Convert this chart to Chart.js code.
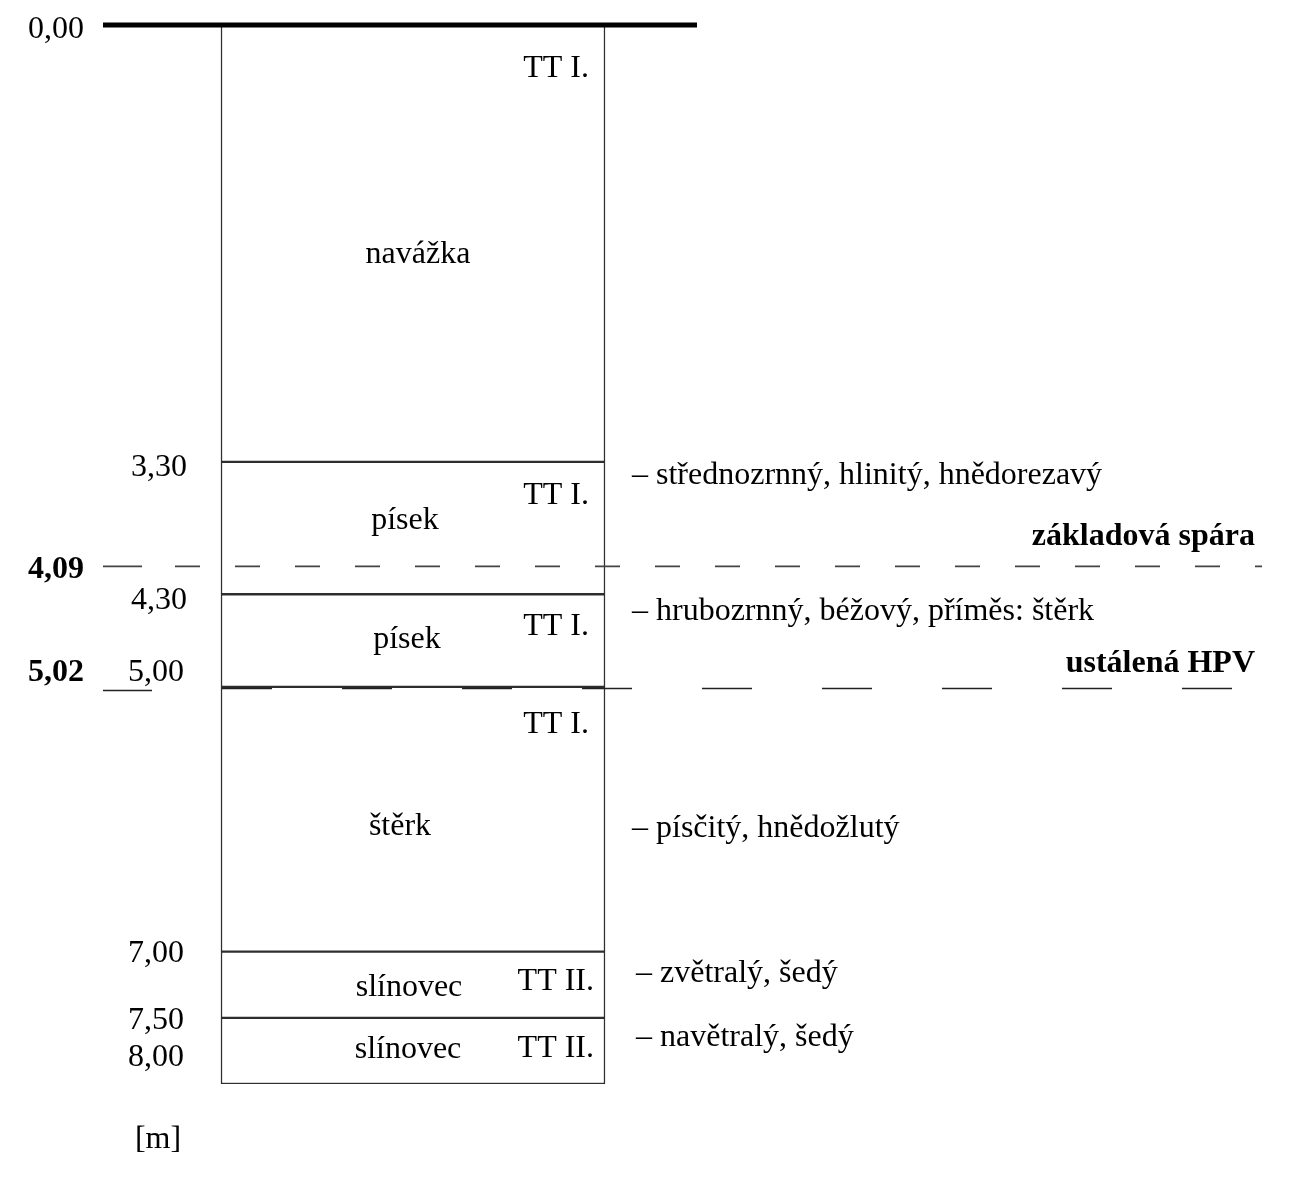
<!DOCTYPE html>
<html>
<head>
<meta charset="utf-8">
<script src="https://cdn.jsdelivr.net/npm/chart.js@4/dist/chart.umd.min.js"></script>
<style>
html,body{margin:0;padding:0;background:#fff;}
canvas{display:block;}
</style>
</head>
<body>
<canvas id="c" width="1291" height="1179"></canvas>
<script>
// ---- data ----
const layerTop    = [0.00, 3.30, 4.30, 5.00, 7.00, 7.50];
const layerBottom = [3.30, 4.30, 5.00, 7.00, 7.50, 8.00];
const layerNames  = ['navážka', 'písek', 'písek', 'štěrk', 'slínovec', 'slínovec'];
const layerClass  = ['TT I.', 'TT I.', 'TT I.', 'TT I.', 'TT II.', 'TT II.'];
const layerDesc   = ['', '– střednozrnný, hlinitý, hnědorezavý', '– hrubozrnný, béžový, příměs: štěrk',
                     '– písčitý, hnědožlutý', '– zvětralý, šedý', '– navětralý, šedý'];
const nameDepth   = [1.71, 3.72, 4.62, 6.03, 7.25, 7.72];
const classDepth  = [0.31, 3.53, 4.52, 5.26, 7.20, 7.71];
const descDepth   = [null, 3.38, 4.41, 6.05, 7.14, 7.63];
const depthTicks  = [0.00, 3.30, 4.30, 5.00, 7.00, 7.50, 8.00];
const foundationDepth = 4.09;   // základová spára
const waterDepth      = 5.02;   // ustálená HPV
const foundationLabel = 'základová spára';
const waterLabel      = 'ustálená HPV';
const unitLabel       = '[m]';

// ---- helpers / style ----
const SERIF = '"Liberation Serif", "Times New Roman", serif';
const FS = 32;
const TY = 3; // text vertical nudge
const fmt = v => v.toFixed(2).replace('.', ',');
const tickXRight  = [84, 187, 187, 184, 184, 184, 184];
const tickYOffset = [2, 3, 3, -17, -1, 0, -29];
const nameX       = [418, 405, 407, 400, 409, 408];

const datasets = layerTop.map((t, i) => ({
  label: layerNames[i],
  data: [[t, layerBottom[i]]],
  backgroundColor: '#ffffff',
  borderColor: '#2e2e2e',
  borderWidth: 1.5,
  borderSkipped: false,
  grouped: false,
  barThickness: 384
}));

const overlay = {
  id: 'overlay',
  afterDraw(chart) {
    const ctx = chart.ctx;
    const y = chart.scales.y;
    const px = v => y.getPixelForValue(v);
    ctx.save();

    // ground surface line
    ctx.strokeStyle = '#000';
    ctx.lineWidth = 5;
    ctx.beginPath();
    ctx.moveTo(103, px(0)); ctx.lineTo(697, px(0));
    ctx.stroke();

    // foundation dashed line
    const yf = px(foundationDepth);
    ctx.strokeStyle = '#444';
    ctx.lineWidth = 1.6;
    ctx.beginPath(); ctx.moveTo(103, yf); ctx.lineTo(142, yf); ctx.stroke();
    ctx.setLineDash([25, 35]);
    ctx.beginPath(); ctx.moveTo(175, yf); ctx.lineTo(1262, yf); ctx.stroke();

    // water table dashed line
    const yw = px(waterDepth);
    ctx.setLineDash([]);
    ctx.strokeStyle = '#222';
    ctx.beginPath(); ctx.moveTo(103, yw + 1); ctx.lineTo(152, yw + 1); ctx.stroke();
    ctx.setLineDash([50, 70]);
    ctx.beginPath(); ctx.moveTo(222, yw - 1); ctx.lineTo(1235, yw - 1); ctx.stroke();
    ctx.setLineDash([]);

    ctx.fillStyle = '#000';
    ctx.textBaseline = 'middle';

    // depth labels
    ctx.font = FS + 'px ' + SERIF;
    ctx.textAlign = 'right';
    depthTicks.forEach((d, i) => {
      ctx.fillText(fmt(d), tickXRight[i], px(d) + tickYOffset[i] + TY);
    });
    ctx.font = 'bold ' + FS + 'px ' + SERIF;
    ctx.fillText(fmt(foundationDepth), 84, yf + TY);
    ctx.fillText(fmt(waterDepth), 84, px(5.00) - 17 + TY);

    // unit
    ctx.font = FS + 'px ' + SERIF;
    ctx.textAlign = 'center';
    ctx.fillText(unitLabel, 158, px(8) + 53 + TY);

    // layer names and classes
    layerNames.forEach((n, i) => {
      ctx.textAlign = 'center';
      ctx.fillText(n, nameX[i], px(nameDepth[i]) + TY);
      ctx.textAlign = 'right';
      ctx.fillText(layerClass[i], layerClass[i] === 'TT II.' ? 594 : 589, px(classDepth[i]) + TY);
      if (layerDesc[i]) {
        ctx.textAlign = 'left';
        ctx.fillText(layerDesc[i], i >= 4 ? 636 : 632, px(descDepth[i]) + TY);
      }
    });

    // bold annotations
    ctx.font = 'bold ' + FS + 'px ' + SERIF;
    ctx.textAlign = 'right';
    ctx.fillText(foundationLabel, 1255, px(3.84) + TY);
    ctx.fillText(waterLabel, 1255, px(4.80) + TY);

    ctx.restore();
  }
};

new Chart(document.getElementById('c'), {
  type: 'bar',
  data: { labels: ['vrt'], datasets },
  options: {
    responsive: false,
    devicePixelRatio: 1,
    animation: false,
    layout: { padding: { top: 25, bottom: 95, left: 0, right: 465 } },
    plugins: { legend: { display: false }, tooltip: { enabled: false } },
    scales: {
      x: { display: false },
      y: { display: false, reverse: true, min: 0, max: 8 }
    }
  },
  plugins: [overlay]
});
</script>
</body>
</html>
